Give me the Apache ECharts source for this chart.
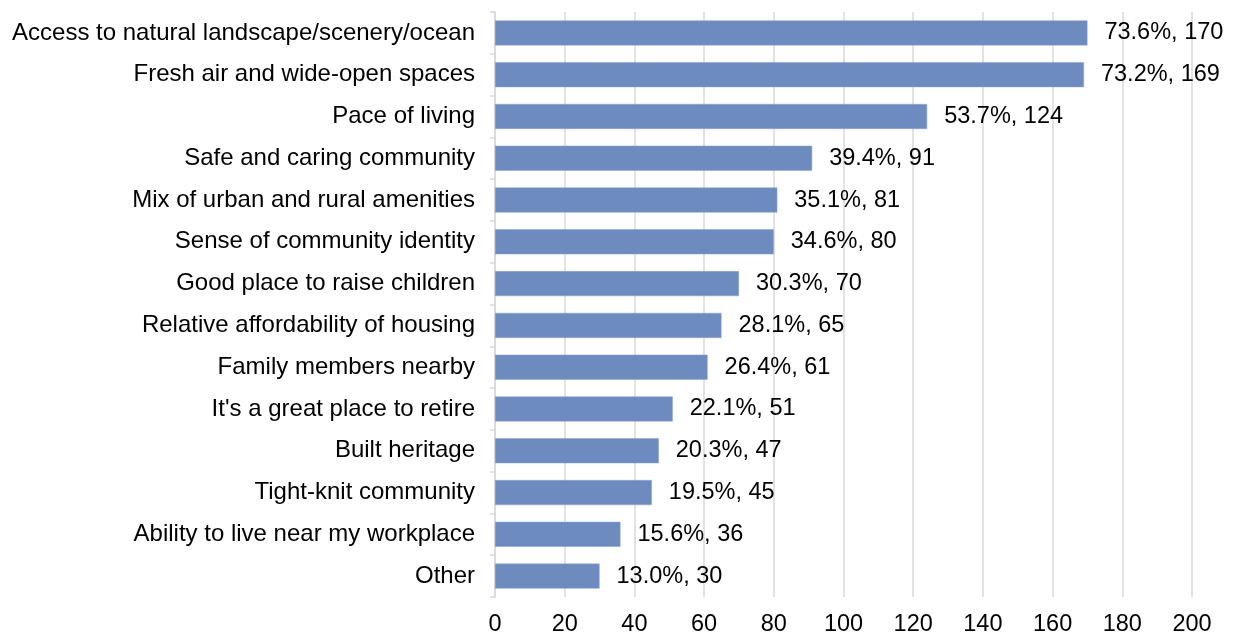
<!DOCTYPE html>
<html>
<head>
<meta charset="utf-8">
<script src="https://cdn.jsdelivr.net/npm/echarts@6/dist/echarts.min.js"></script>
<style>
  html, body { margin: 0; padding: 0; background: #fff; }
  #chart { width: 1234px; height: 637px; }
</style>
</head>
<body>
<div id="chart"></div>
<script>
  // categories listed top to bottom
  var categories = [
    'Access to natural landscape/scenery/ocean',
    'Fresh air and wide-open spaces',
    'Pace of living',
    'Safe and caring community',
    'Mix of urban and rural amenities',
    'Sense of community identity',
    'Good place to raise children',
    'Relative affordability of housing',
    'Family members nearby',
    "It's a great place to retire",
    'Built heritage',
    'Tight-knit community',
    'Ability to live near my workplace',
    'Other'
  ]
  var counts = [170, 169, 124, 91, 81, 80, 70, 65, 61, 51, 47, 45, 36, 30]
  var percents = ['73.6%', '73.2%', '53.7%', '39.4%', '35.1%', '34.6%', '30.3%', '28.1%', '26.4%', '22.1%', '20.3%', '19.5%', '15.6%', '13.0%']
  var xTicks = [0, 20, 40, 60, 80, 100, 120, 140, 160, 180, 200]

  var font = 'Liberation Sans, Arial, sans-serif'

  var chart = echarts.init(document.getElementById('chart'))
  var option = {
    backgroundColor: '#fff',
    animation: false,
    grid: { left: 495, right: 42, top: 12, bottom: 40, containLabel: false },
    xAxis: {
      type: 'value',
      min: xTicks[0],
      max: xTicks[xTicks.length - 1],
      interval: 20,
      axisLine: { show: false },
      axisTick: { show: false },
      axisLabel: { color: '#000', fontSize: 23.5, fontFamily: font, margin: 16 },
      splitLine: { show: true, lineStyle: { color: '#d9d9d9', width: 1.5 } }
    },
    yAxis: {
      type: 'category',
      inverse: true,
      data: categories,
      axisLine: { show: true, lineStyle: { color: '#d9d9d9', width: 1.5 } },
      axisTick: { show: true, length: 5, lineStyle: { color: '#d9d9d9', width: 1.5 } },
      axisLabel: { color: '#000', fontSize: 24, fontFamily: font, margin: 20 }
    },
    series: [{
      type: 'bar',
      data: counts,
      barWidth: 25,
      itemStyle: { color: '#6e8bc0', borderColor: '#8aa2cf', borderWidth: 0.5 },
      label: {
        show: true,
        position: 'right',
        distance: 17,
        color: '#000',
        fontSize: 23.5,
        fontFamily: font,
        formatter: function (p) { return percents[p.dataIndex] + ', ' + p.value }
      }
    }]
  }
  chart.setOption(option)
</script>
</body>
</html>
